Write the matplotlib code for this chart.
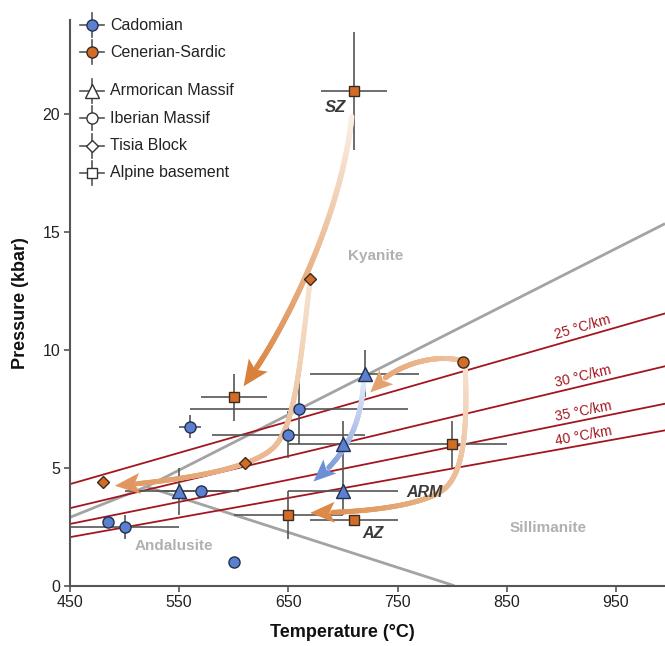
import numpy as np
import matplotlib
matplotlib.use('Agg')
import matplotlib.pyplot as plt
from matplotlib.collections import LineCollection
from matplotlib.patches import Polygon
from matplotlib.bezier import BezierSegment
from matplotlib.colors import to_rgb

plt.rcParams['font.family'] = ['Liberation Sans', 'DejaVu Sans']

# ---------------- data ----------------
# Cadomian (blue) - Armorican Massif (triangles)
cad_arm_T = [720, 700, 700, 550]
cad_arm_P = [9.0, 6.0, 4.0, 4.0]
cad_arm_Terr = [50, 50, 50, 50]
cad_arm_Perr = [1.0, 1.0, 1.0, 1.0]
# Cadomian - Iberian Massif (circles)
cad_ib_T = [660, 650, 560, 570, 485, 500, 600]
cad_ib_P = [7.5, 6.4, 6.75, 4.0, 2.7, 2.5, 1.0]
cad_ib_Terr = [100, 70, 10, 35, 0, 50, 0]
cad_ib_Perr = [1.5, 1.0, 0.5, 0, 0, 0.5, 0]
# Cenerian-Sardic (orange) - Alpine basement (squares)
cs_alp_T = [710, 600, 800, 650, 710]
cs_alp_P = [21.0, 8.0, 6.0, 3.0, 2.8]
cs_alp_Terr = [30, 30, 50, 50, 40]
cs_alp_Perr = [2.5, 1.0, 1.0, 1.0, 0]
# Cenerian-Sardic - Tisia Block (diamonds)
cs_tis_T = [670, 610, 480]
cs_tis_P = [13.0, 5.2, 4.4]
# Cenerian-Sardic - Iberian Massif (circle)
cs_ib_T = [810]
cs_ib_P = [9.5]

# geotherms
geo_labels = ['25 °C/km', '30 °C/km', '35 °C/km', '40 °C/km']
geo_T = [450, 995]
geo_P_start = [4.31, 3.29, 2.62, 2.06]
geo_P_end = [11.55, 9.31, 7.72, 6.59]

# aluminosilicate phase boundaries
and_ky_T, and_ky_P = [450, 520], [2.9, 4.2]
ky_sil_T, ky_sil_P = [520, 995], [4.2, 15.36]
and_sil_T, and_sil_P = [520, 802], [4.2, 0.0]

x_ticks = [450, 550, 650, 750, 850, 950]
y_ticks = [0, 5, 10, 15, 20]

legend_groups = ['Cadomian', 'Cenerian-Sardic']
legend_units = ['Armorican Massif', 'Iberian Massif', 'Tisia Block', 'Alpine basement']

BLUE = '#5b80cf'
BLUE_E = '#22304f'
ORANGE = '#d26c26'
ORANGE_E = '#3a2a20'
BAR = '#555555'

W, H = 665, 646
fig = plt.figure(figsize=(W / 100, H / 100), dpi=100)
ax = fig.add_axes([70 / W, 60.3 / H, 595 / W, 565.7 / H])
ax.set_xlim(450, 995)
ax.set_ylim(0, 24)

for s in ['top', 'right']:
    ax.spines[s].set_visible(False)
for s in ['left', 'bottom']:
    ax.spines[s].set_color('#555555')
    ax.spines[s].set_linewidth(1.5)
ax.set_xticks(x_ticks)
ax.set_yticks(y_ticks)
ax.tick_params(direction='out', length=4, width=1.2, color='#555555',
               labelsize=11.5, labelcolor='#222222', pad=3)

ax.set_xlabel('Temperature (°C)', fontsize=13, fontweight='bold', color='#111111')
ax.set_ylabel('Pressure (kbar)', fontsize=13, fontweight='bold', color='#111111')
ax.xaxis.label.set_va('center')
ax.yaxis.label.set_va('center')
ax.xaxis.set_label_coords((342.6 - 70) / 595, -0.082)
ax.yaxis.set_label_coords(-0.084, 0.5)

# phase boundaries
for tt, pp in [(and_ky_T, and_ky_P), (ky_sil_T, ky_sil_P), (and_sil_T, and_sil_P)]:
    ax.plot(tt, pp, color='#a3a3a3', lw=2.0, zorder=1, solid_capstyle='butt')

# geotherms
for lab, ps, pe in zip(geo_labels, geo_P_start, geo_P_end):
    ax.plot(geo_T, [ps, pe], color='#a3161f', lw=1.3, zorder=2)
    p1 = ax.transData.transform((geo_T[0], ps))
    p2 = ax.transData.transform((geo_T[1], pe))
    ang = np.degrees(np.arctan2(p2[1] - p1[1], p2[0] - p1[0]))
    tl = 922
    pl = ps + (pe - ps) * (tl - geo_T[0]) / (geo_T[1] - geo_T[0])
    ax.annotate(lab, (tl, pl), xytext=(-1.5 * np.sin(np.radians(ang)), 1.5 * np.cos(np.radians(ang))),
                textcoords='offset points', rotation=ang, rotation_mode='anchor',
                ha='center', va='bottom', fontsize=10, color='#a3161f', zorder=2)


# gradient arrows
def grad_arrow(segs, c0, c1, lw, head_len=22, head_w=20, z=4):
    pts = []
    for s in segs:
        b = BezierSegment(np.array(s, float))
        p = b(np.linspace(0, 1, 150))
        if pts:
            p = p[1:]
        pts.append(p)
    pts = np.vstack(pts)
    disp = ax.transData.transform(pts)
    tip = disp[-1]
    d = np.hypot(disp[:, 0] - tip[0], disp[:, 1] - tip[1])
    idx = np.where(d >= head_len)[0][-1]
    cum = np.concatenate([[0], np.cumsum(np.hypot(*np.diff(disp, axis=0).T))])
    frac = cum / cum[-1]
    c0 = np.array(to_rgb(c0)); c1 = np.array(to_rgb(c1))
    body = pts[:idx + 3]
    segsl = np.stack([body[:-1], body[1:]], axis=1)
    cols = [tuple(c0 + (c1 - c0) * f) for f in frac[:len(segsl)]]
    lc = LineCollection(segsl, colors=cols, linewidths=lw, capstyle='round', zorder=z)
    ax.add_collection(lc)
    base = disp[idx]
    u = (tip - base) / np.hypot(*(tip - base))
    n = np.array([-u[1], u[0]])
    back = base + u * head_len * 0.22
    poly_disp = np.array([tip, base + n * head_w / 2, back, base - n * head_w / 2])
    poly = ax.transData.inverted().transform(poly_disp)
    ax.add_patch(Polygon(poly, closed=True, facecolor=tuple(c1), edgecolor='none', zorder=z))


# light branch from Tisia diamond down and left
grad_arrow([[(670, 13), (660, 9), (655, 6.6), (635, 5.8)],
            [(635, 5.8), (615, 5.0), (560, 4.5), (491, 4.24)]],
           '#f7e4d3', '#e0965e', 3.6, head_len=24, head_w=21)
# dark branch from SZ
grad_arrow([[(708, 19.9), (700, 16.0), (650, 11.0), (609, 8.46)]],
           '#fbf1e8', '#d9803a', 3.9, head_len=25, head_w=23)
# from Iberian circle to the left
grad_arrow([[(808, 9.55), (785, 9.85), (745, 9.4), (725, 8.2)]],
           '#efc4a2', '#e4a271', 3.6, head_len=22, head_w=20)
# from Iberian circle down and left
grad_arrow([[(812, 9.3), (814, 7.0), (812, 5.0), (795, 4.2)],
            [(795, 4.2), (778, 3.4), (720, 3.1), (670, 3.09)]],
           '#f6e3d1', '#dd8a48', 3.6, head_len=24, head_w=21)
# blue arrow
grad_arrow([[(719, 8.7), (717, 7.0), (705, 5.6), (673, 4.42)]],
           '#e6edf8', '#6d8fd6', 3.6, head_len=22, head_w=19)

# data points with error bars
ebkw = dict(fmt='none', ecolor=BAR, elinewidth=1.2, capsize=0, zorder=3)
ax.errorbar(cad_arm_T, cad_arm_P, xerr=cad_arm_Terr, yerr=cad_arm_Perr, **ebkw)
ax.errorbar(cad_ib_T, cad_ib_P, xerr=cad_ib_Terr, yerr=cad_ib_Perr, **ebkw)
ax.errorbar(cs_alp_T, cs_alp_P, xerr=cs_alp_Terr, yerr=cs_alp_Perr, **ebkw)

mk = dict(linestyle='none', markeredgewidth=1.0, zorder=6)
ax.plot(cad_arm_T, cad_arm_P, marker='^', ms=9.5, mfc=BLUE, mec=BLUE_E, **mk)
ax.plot(cad_ib_T, cad_ib_P, marker='o', ms=8, mfc=BLUE, mec=BLUE_E, **mk)
ax.plot(cs_alp_T, cs_alp_P, marker='s', ms=7.5, mfc=ORANGE, mec=ORANGE_E, **mk)
ax.plot(cs_tis_T, cs_tis_P, marker='D', ms=6.5, mfc=ORANGE, mec=ORANGE_E, **mk)
ax.plot(cs_ib_T, cs_ib_P, marker='o', ms=8, mfc=ORANGE, mec=ORANGE_E, **mk)

# labels
ax.text(693.4, 20.29, 'SZ', fontsize=12, fontweight='bold', style='italic', color='#3a3a3a',
        ha='center', va='center', zorder=7)
ax.text(774.4, 3.97, 'ARM', fontsize=11.5, fontweight='bold', style='italic', color='#3a3a3a',
        ha='center', va='center', zorder=7)
ax.text(727.3, 2.23, 'AZ', fontsize=11.5, fontweight='bold', style='italic', color='#3a3a3a',
        ha='center', va='center', zorder=7)
ax.text(730.4, 14.0, 'Kyanite', fontsize=11, fontweight='bold', color='#b0b0b0',
        ha='center', va='center', zorder=7)
ax.text(888, 2.45, 'Sillimanite', fontsize=11, fontweight='bold', color='#b0b0b0',
        ha='center', va='center', zorder=7)
ax.text(544.7, 1.70, 'Andalusite', fontsize=11, fontweight='bold', color='#b0b0b0',
        ha='center', va='center', zorder=7)

# legend (manual)
lx = 0.0365
dx, dy = 12 / 595, 12 / 565.7
leg_y = [0.991, 0.943, 0.875, 0.826, 0.7775, 0.730]
leg_labels = legend_groups + legend_units
leg_mk = ['o', 'o', '^', 'o', 'D', 's']
leg_ms = [8, 8, 9.5, 8, 6.5, 7.5]
leg_fc = [BLUE, ORANGE, 'white', 'white', 'white', 'white']
leg_ec = [BLUE_E, ORANGE_E, '#333333', '#333333', '#333333', '#333333']
for y, lab, m, ms, fc, ec in zip(leg_y, leg_labels, leg_mk, leg_ms, leg_fc, leg_ec):
    ax.plot([lx - dx, lx + dx], [y, y], color=BAR, lw=1.2, transform=ax.transAxes, clip_on=False, zorder=5)
    ax.plot([lx, lx], [y - dy, y + dy], color=BAR, lw=1.2, transform=ax.transAxes, clip_on=False, zorder=5)
    ax.plot([lx], [y], marker=m, ms=ms, mfc=fc, mec=ec, mew=1.0, linestyle='none',
            transform=ax.transAxes, clip_on=False, zorder=6)
    ax.text(0.0672, y, lab, fontsize=11.5, color='#222222', va='center', ha='left', transform=ax.transAxes)

fig.savefig('out.png', dpi=100)
